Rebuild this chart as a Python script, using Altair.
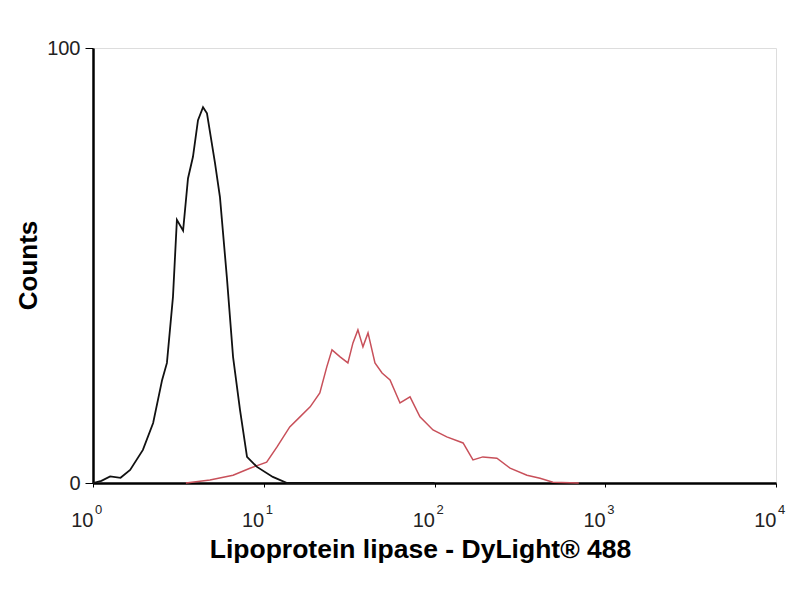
import altair as alt
import pandas as pd

# Black (control) histogram
black_x = [1.0, 1.12, 1.26, 1.45, 1.65, 1.96, 2.25, 2.54, 2.71, 2.94, 3.10, 3.37, 3.60, 3.85, 4.12, 4.41, 4.65, 5.18, 5.54, 6.09, 6.61, 7.26, 7.98, 9.13, 11.3, 13.7, 30, 100]
black_y = [0, 0.5, 1.5, 1.2, 3, 7.6, 13.8, 23.7, 27.6, 42.8, 60.5, 58, 70, 75, 83.4, 86.4, 85, 73.6, 65.7, 47, 29, 16.8, 6, 3.7, 1.4, 0, 0, 0]

# Red (stained) histogram
red_x = [3.5, 4.84, 6.61, 8.30, 10.4, 11.96, 14.2, 16.3, 18.7, 21.3, 23.4, 25.1, 28.0, 31.1, 33.3, 35.6, 38.1, 40.8, 44.8, 49.3, 54.9, 62.8, 71.9, 82.2, 98.0, 118, 147, 168, 192, 232, 277, 348, 415, 494, 700]
red_y = [0, 0.7, 1.8, 3.4, 4.8, 8.3, 12.9, 15.2, 17.5, 20.7, 26.7, 30.6, 29, 27.6, 32.2, 35.2, 31.3, 34.5, 27.6, 25.3, 23.7, 18.4, 19.8, 15.2, 12.2, 10.6, 9.2, 5.3, 6, 5.7, 3.4, 1.8, 1.1, 0.2, 0]

x_ticks = [1, 10, 100, 1000, 10000]
x_tick_base = "10"
x_tick_exponents = ["0", "1", "2", "3", "4"]
y_ticks = [0, 100]

df_black = pd.DataFrame({"x": black_x, "y": black_y, "i": range(len(black_x))})
df_red = pd.DataFrame({"x": red_x, "y": red_y, "i": range(len(red_x))})
df_exp = pd.DataFrame({"x": x_ticks, "y": [0] * len(x_ticks), "t": x_tick_exponents})

xscale = alt.Scale(type="log", domain=[1, 10000], nice=False)
yscale = alt.Scale(domain=[0, 100], nice=False)

xenc = alt.X(
    "x:Q", scale=xscale,
    axis=alt.Axis(
        values=x_ticks, labelExpr=f"'{x_tick_base}'", title="Lipoprotein lipase - DyLight® 488",
        grid=False, domainColor="black", domainWidth=2.5, tickColor="black", tickSize=4,
        labelFont="Liberation Sans", labelFontSize=20, labelColor="#222",
        labelPadding=39, labelBaseline="alphabetic", labelAlign="right", labelFlush=False,
        labelOverlap=False,
        titleFont="Liberation Sans", titleFontSize=26.5, titleFontWeight="bold",
        titleColor="black", titleX=327, titleY=74, titleBaseline="alphabetic",
    ),
)
yenc = alt.Y(
    "y:Q", scale=yscale,
    axis=alt.Axis(
        values=y_ticks, title="Counts", grid=False,
        domainColor="black", domainWidth=2.5, tickColor="black", tickSize=8,
        labelFont="Liberation Sans", labelFontSize=20, labelColor="#222",
        labelPadding=5, labelFlush=False,
        titleFont="Liberation Sans", titleFontSize=26, titleFontWeight="bold",
        titleColor="black", titleX=-65, titleY=217, titleBaseline="middle", titleAngle=-90,
    ),
)

black = alt.Chart(df_black).mark_line(color="#111111", strokeWidth=1.8).encode(
    x=xenc, y=yenc, order="i:Q"
)
red = alt.Chart(df_red).mark_line(color="#c8505a", strokeWidth=1.5).encode(
    x="x:Q", y="y:Q", order="i:Q"
)
exps = alt.Chart(df_exp).mark_text(
    font="Liberation Sans", fontSize=13, align="left", baseline="alphabetic",
    dx=2, dy=31, color="#222",
).encode(x="x:Q", y="y:Q", text="t:N")

chart = alt.layer(red, black, exps).properties(
    width=683, height=435,
    autosize=alt.AutoSizeParams(type="none"),
    padding={"left": 85, "top": 40, "right": 14, "bottom": 90},
).configure_view(stroke="#666666", strokeWidth=1.5).configure(background="white")

chart.save("out.html", embed_options={"renderer": "svg", "actions": False})
